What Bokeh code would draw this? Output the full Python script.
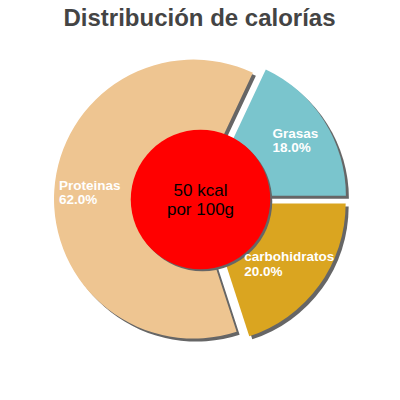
import math
from bokeh.plotting import figure
from bokeh.models import Range1d, ColumnDataSource
from bokeh.core.properties import value
from bokeh.embed import file_html
from bokeh.resources import INLINE

# ---- data ----
title = "Distribución de calorías"
labels = ["Grasas", "Proteinas", "carbohidratos"]
percents = [18.0, 62.0, 20.0]
colors = ["#7AC5CD", "#EEC591", "#DAA520"]
center_text = "50 kcal\npor 100g"

# ---- layout ----
W = H = 384
p = figure(width=W, height=H, x_range=Range1d(0, 384), y_range=Range1d(16, 400),
           output_backend="svg", toolbar_location=None, min_border=0)
p.axis.visible = False
p.grid.visible = False
p.outline_line_color = None

cx, cy = 200.0, 201.0
R = 139.5
explode = 7.0
sdx, sdy = 3.0, -3.0
font = value("Liberation Sans")

starts, ends, xs, ys, lx, ly, texts = [], [], [], [], [], [], []
acc = 0.0
for name, pct in zip(labels, percents):
    a0 = acc / 100.0 * 2 * math.pi
    acc += pct
    a1 = acc / 100.0 * 2 * math.pi
    mid = (a0 + a1) / 2
    x0 = cx + explode * math.cos(mid)
    y0 = cy + explode * math.sin(mid)
    starts.append(a0)
    ends.append(a1)
    xs.append(x0)
    ys.append(y0)
    t = f"{name}\n{pct:.1f}%"
    w = 7.0 * max(len(name), len(f"{pct:.1f}%"))
    lx.append(x0 + 0.74 * R * math.cos(mid) - w / 2)
    ly.append(y0 + 0.74 * R * math.sin(mid))
    texts.append(t)

src = ColumnDataSource(dict(x=xs, y=ys, sx=[v + sdx for v in xs], sy=[v + sdy for v in ys],
                            s=starts, e=ends, color=colors, lx=lx, ly=ly, text=texts))

# shadows
p.wedge(x="sx", y="sy", radius=R, start_angle="s", end_angle="e", direction="anticlock",
        fill_color="#666666", line_color=None, source=src)
# slices
p.wedge(x="x", y="y", radius=R, start_angle="s", end_angle="e", direction="anticlock",
        fill_color="color", line_color=None, source=src)

# center circle with shadow
p.circle(x=[cx + 2], y=[cy - 2], radius=R / 2, fill_color="#666666", line_color=None)
p.circle(x=[cx], y=[cy], radius=R / 2, fill_color="#FF0000", line_color=None)

# slice labels
p.text(x="lx", y="ly", text="text", source=src, text_align="left", text_baseline="middle",
       text_font=font, text_font_size="13.5px", text_font_style="bold", text_color="white",
       text_line_height=0.98)

# center text
p.text(x=[cx], y=[cy], text=[center_text], text_align="center", text_baseline="middle",
       text_font=font, text_font_size="17px", text_color="black", text_line_height=1.0)

# title
p.text(x=[199], y=[383], text=[title], text_align="center", text_baseline="middle",
       text_font=font, text_font_size="24px", text_font_style="bold", text_color="#444444")

open("out.html", "w").write(file_html(p, INLINE))
